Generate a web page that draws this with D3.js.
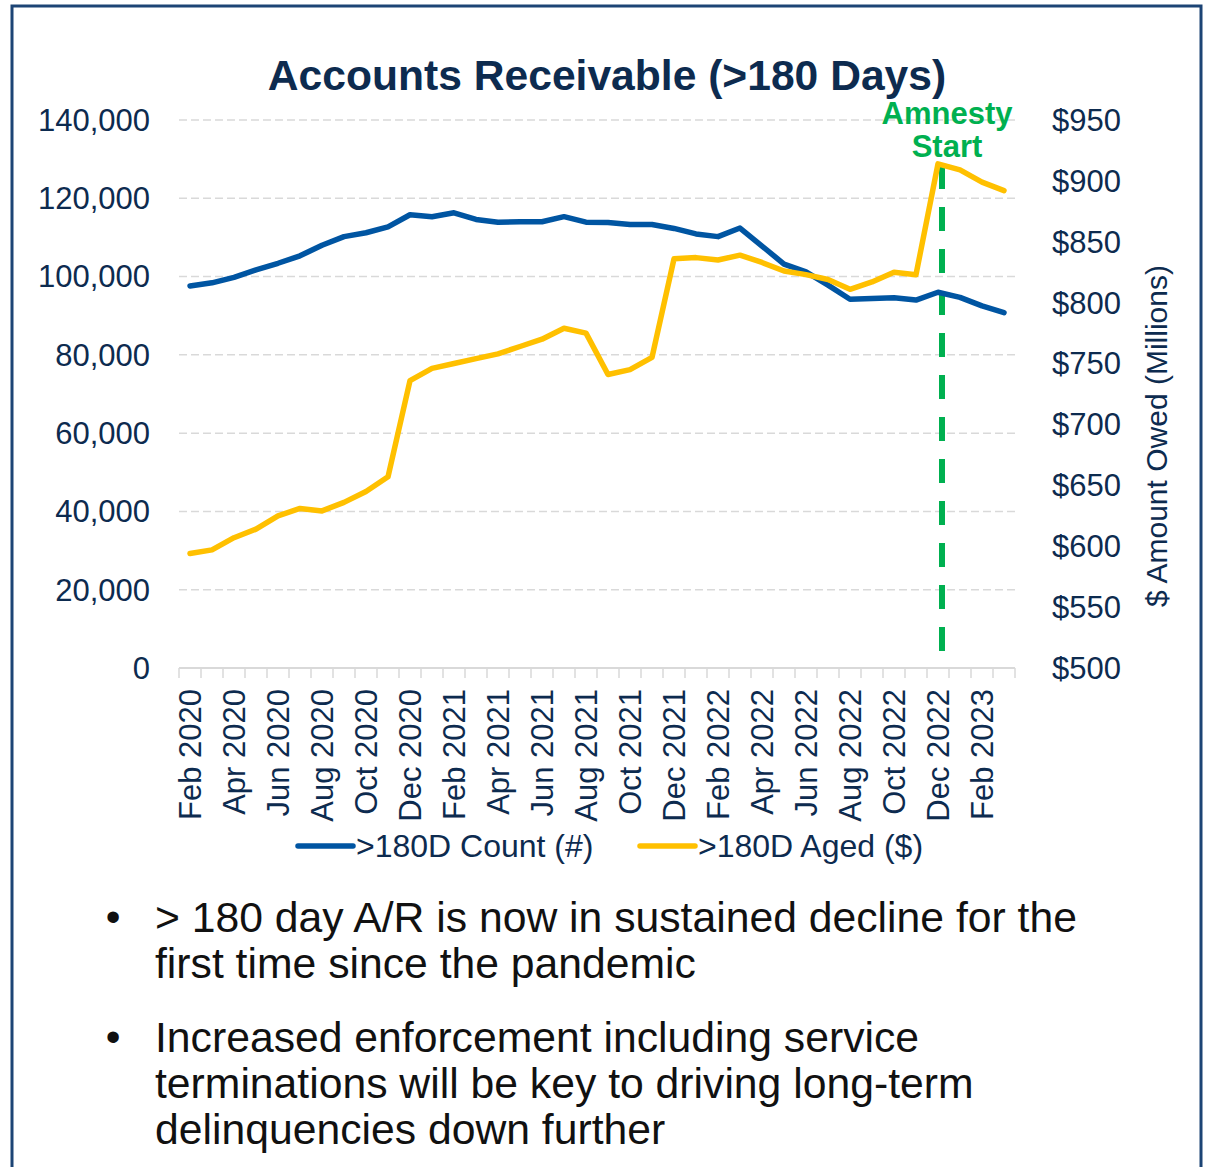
<!DOCTYPE html>
<html>
<head>
<meta charset="utf-8">
<script src="https://cdn.jsdelivr.net/npm/d3@7"></script>
<style>
  body { margin: 0; background: #fff; }
  svg { display: block; font-family: "Liberation Sans", Arial, sans-serif; }
</style>
</head>
<body>
<svg id="chart" width="1205" height="1167"></svg>
<script>
// months Feb 2020 .. Mar 2023
var months = ["Feb 2020","Mar 2020","Apr 2020","May 2020","Jun 2020","Jul 2020","Aug 2020","Sep 2020","Oct 2020","Nov 2020","Dec 2020","Jan 2021",
  "Feb 2021","Mar 2021","Apr 2021","May 2021","Jun 2021","Jul 2021","Aug 2021","Sep 2021","Oct 2021","Nov 2021","Dec 2021","Jan 2022",
  "Feb 2022","Mar 2022","Apr 2022","May 2022","Jun 2022","Jul 2022","Aug 2022","Sep 2022","Oct 2022","Nov 2022","Dec 2022","Jan 2023",
  "Feb 2023","Mar 2023"];

var countValues = [97600, 98400, 99800, 101700, 103400, 105300, 108000, 110200, 111200, 112700, 115800, 115300,
  116300, 114600, 113900, 114000, 114000, 115300, 113900, 113800, 113300, 113300, 112300, 110900,
  110200, 112400, 107800, 103200, 101200, 97800, 94200, 94400, 94600, 94000, 96000, 94700,
  92500, 90800];

var agedValues = [594, 597, 607, 614, 625, 631, 629, 636, 645, 657, 736, 746,
  750, 754, 758, 764, 770, 779, 775, 741, 745, 755, 836, 837,
  835, 839, 833, 826, 823, 819, 811, 817, 825, 823, 914, 909,
  899, 892];

var countTicks = [0, 20000, 40000, 60000, 80000, 100000, 120000, 140000];
var dollarTicks = [500, 550, 600, 650, 700, 750, 800, 850, 900, 950];
var seriesNames = [">180D Count (#)", ">180D Aged ($)"];
var amnestyMonth = "Dec 2022";

var navy = "#0d2b4f", blue = "#0055a2", gold = "#ffc000", green = "#00b050";

var svg = d3.select("#chart");

// frame
svg.append("path")
    .attr("d", "M12,1167 L12,6 L1201,6 L1201,1167")
    .attr("fill", "none")
    .attr("stroke", "#1c4475")
    .attr("stroke-width", 3);

var plotLeft = 179, plotRight = 1015, plotTop = 120, plotBottom = 668;

var x = d3.scaleBand().domain(months).range([plotLeft, plotRight]).padding(0);
var yL = d3.scaleLinear().domain([0, 140000]).range([plotBottom, plotTop]);
var yR = d3.scaleLinear().domain([500, 950]).range([plotBottom, plotTop]);

// gridlines
svg.append("g").selectAll("line")
    .data(countTicks.slice(1))
    .join("line")
    .attr("x1", plotLeft).attr("x2", plotRight)
    .attr("y1", d => yL(d)).attr("y2", d => yL(d))
    .attr("stroke", "#d9d9d9")
    .attr("stroke-width", 1.5)
    .attr("stroke-dasharray", "8,4");

// x axis baseline and ticks
svg.append("line")
    .attr("x1", plotLeft).attr("x2", plotRight)
    .attr("y1", plotBottom).attr("y2", plotBottom)
    .attr("stroke", "#d9d9d9").attr("stroke-width", 2);

svg.append("g").selectAll("line")
    .data(months.concat(["end"]))
    .join("line")
    .attr("x1", (d, i) => plotLeft + i * x.bandwidth())
    .attr("x2", (d, i) => plotLeft + i * x.bandwidth())
    .attr("y1", plotBottom).attr("y2", plotBottom + 10)
    .attr("stroke", "#d9d9d9").attr("stroke-width", 1.5);

// x labels (every other month)
svg.append("g").selectAll("text")
    .data(months.filter((d, i) => i % 2 === 0))
    .join("text")
    .attr("transform", d => "translate(" + (x(d) + x.bandwidth() / 2) + "," + (plotBottom + 21) + ") rotate(-90)")
    .attr("dy", "0.35em")
    .attr("text-anchor", "end")
    .attr("font-size", 31)
    .attr("fill", navy)
    .text(d => d);

// left axis labels
svg.append("g").selectAll("text")
    .data(countTicks)
    .join("text")
    .attr("x", 150)
    .attr("y", d => yL(d))
    .attr("dy", "0.35em")
    .attr("text-anchor", "end")
    .attr("font-size", 31)
    .attr("fill", navy)
    .text(d => d3.format(",")(d));

// right axis labels
svg.append("g").selectAll("text")
    .data(dollarTicks)
    .join("text")
    .attr("x", 1052)
    .attr("y", d => yR(d))
    .attr("dy", "0.35em")
    .attr("text-anchor", "start")
    .attr("font-size", 31)
    .attr("fill", navy)
    .text(d => "$" + d);

svg.append("text")
    .attr("transform", "translate(1167,436) rotate(-90)")
    .attr("text-anchor", "middle")
    .attr("font-size", 30)
    .attr("fill", navy)
    .text("$ Amount Owed (Millions)");

// title
svg.append("text")
    .attr("x", 607).attr("y", 90)
    .attr("text-anchor", "middle")
    .attr("font-size", 42.6)
    .attr("font-weight", "bold")
    .attr("fill", navy)
    .text("Accounts Receivable (>180 Days)");

var cx = d => x(d) + x.bandwidth() / 2;

// amnesty marker
var ax = cx(amnestyMonth) + 4;
svg.append("line")
    .attr("x1", ax).attr("x2", ax)
    .attr("y1", 165).attr("y2", 656)
    .attr("stroke", green)
    .attr("stroke-width", 6)
    .attr("stroke-dasharray", "24,18");

svg.append("text")
    .attr("x", ax + 5).attr("y", 124)
    .attr("text-anchor", "middle")
    .attr("font-size", 31).attr("font-weight", "bold")
    .attr("fill", green)
    .text("Amnesty");
svg.append("text")
    .attr("x", ax + 5).attr("y", 157)
    .attr("text-anchor", "middle")
    .attr("font-size", 31).attr("font-weight", "bold")
    .attr("fill", green)
    .text("Start");

// lines
var countLine = d3.line().x((d, i) => cx(months[i])).y(d => yL(d));
var agedLine = d3.line().x((d, i) => cx(months[i])).y(d => yR(d));

svg.append("path")
    .datum(countValues)
    .attr("d", countLine)
    .attr("fill", "none")
    .attr("stroke", blue)
    .attr("stroke-width", 5.5)
    .attr("stroke-linejoin", "round")
    .attr("stroke-linecap", "round");

svg.append("path")
    .datum(agedValues)
    .attr("d", agedLine)
    .attr("fill", "none")
    .attr("stroke", gold)
    .attr("stroke-width", 5.5)
    .attr("stroke-linejoin", "round")
    .attr("stroke-linecap", "round");

// legend
var legend = [
  {name: seriesNames[0], color: blue, x: 298},
  {name: seriesNames[1], color: gold, x: 640}
];
var lg = svg.append("g").selectAll("g").data(legend).join("g")
    .attr("transform", d => "translate(" + d.x + ",846)");
lg.append("line")
    .attr("x1", 0).attr("x2", 55)
    .attr("stroke", d => d.color)
    .attr("stroke-width", 5.5)
    .attr("stroke-linecap", "round");
lg.append("text")
    .attr("x", 58)
    .attr("dy", "0.35em")
    .attr("font-size", 32)
    .attr("fill", navy)
    .text(d => d.name);

// bullet notes
var bullets = [
  {y: 932, lines: ["> 180 day A/R is now in sustained decline for the", "first time since the pandemic"]},
  {y: 1052, lines: ["Increased enforcement including service", "terminations will be key to driving long-term", "delinquencies down further"]}
];
bullets.forEach(function(b) {
  svg.append("text")
      .attr("x", 113).attr("y", b.y - 1)
      .attr("text-anchor", "middle")
      .attr("font-size", 42)
      .attr("fill", "#111")
      .text("\u2022");
  svg.append("text")
      .attr("font-size", 42.7)
      .attr("fill", "#111")
      .selectAll("tspan")
      .data(b.lines)
      .join("tspan")
      .attr("x", 155)
      .attr("y", (d, i) => b.y + i * 46)
      .text(d => d);
});
</script>
</body>
</html>
